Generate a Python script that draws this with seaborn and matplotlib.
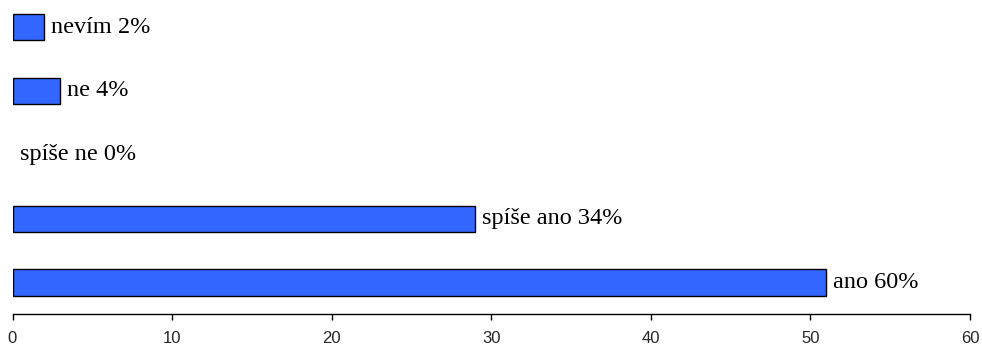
import matplotlib
matplotlib.use("Agg")
import matplotlib.pyplot as plt
import seaborn as sns
import pandas as pd

# Survey answers: counts of respondents and their share of the total
answers = ["nevím", "ne", "spíše ne", "spíše ano", "ano"]
counts = [2, 3, 0, 29, 51]
percent_labels = ["2%", "4%", "0%", "34%", "60%"]
x_ticks = [0, 10, 20, 30, 40, 50, 60]

df = pd.DataFrame({"answer": answers, "count": counts})

sns.set_theme(style="white")
plt.rcParams["font.family"] = ["Liberation Sans", "DejaVu Sans"]

fig = plt.figure(figsize=(9.82, 3.47), dpi=100)
ax = fig.add_axes([12.5 / 982, 33.5 / 347, (970 - 12.5) / 982, 313.5 / 347])

sns.barplot(data=df, x="count", y="answer", order=answers, orient="h",
            color="#3366FF", saturation=1, width=0.41,
            edgecolor="black", linewidth=1.0, ax=ax)

# an empty answer gets no outline
for patch, c in zip(ax.patches, counts):
    if c == 0:
        patch.set_linewidth(0)

for i, (name, c, p) in enumerate(zip(answers, counts, percent_labels)):
    offset = 0.4 if c > 0 else 0.5
    ax.text(c + offset, i, f"{name} {p}", va="center", ha="left",
            fontsize=17.5, family=["Liberation Serif", "DejaVu Serif"],
            color="black")

ax.set_xlim(0, 60)
ax.set_ylim(4.486, -0.4235)
ax.set_xticks(x_ticks)
ax.set_xticklabels([str(t) for t in x_ticks], fontsize=12)
ax.set_yticks([])
ax.set_xlabel("")
ax.set_ylabel("")

for side in ["left", "right", "top"]:
    ax.spines[side].set_visible(False)
ax.spines["bottom"].set_color("black")
ax.spines["bottom"].set_linewidth(1.0)
ax.tick_params(axis="x", direction="out", length=4, width=1, color="black",
               pad=8.5, bottom=True)
ax.patch.set_alpha(0)

fig.savefig("out.png", dpi=100)
